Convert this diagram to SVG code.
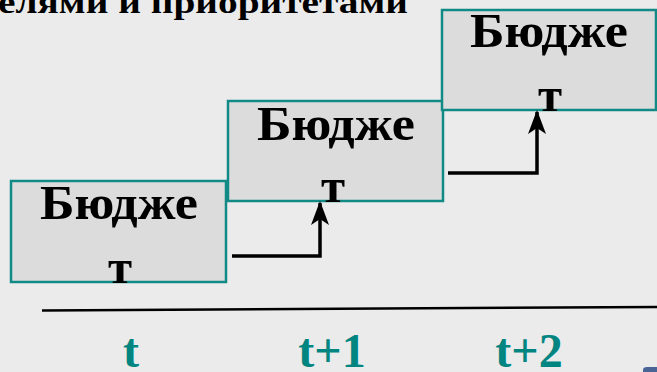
<svg xmlns="http://www.w3.org/2000/svg" width="657" height="372" viewBox="0 0 657 372">
  <style>
    .box { fill: #dcdcdc; stroke: #118a86; stroke-width: 2.5; }
    .lbl { font-family: "Liberation Serif", "Times New Roman", serif; font-weight: bold; font-size: 49px; fill: #000; text-anchor: middle; }
    .time { font-family: "Liberation Serif", "Times New Roman", serif; font-weight: bold; font-size: 48px; fill: #008580; text-anchor: middle; }
    .conn { fill: none; stroke: #000; stroke-width: 3.5; }
  </style>
  <defs>
    <marker id="arr" viewBox="0 0 24 20" refX="22" refY="10" markerUnits="userSpaceOnUse" markerWidth="24" markerHeight="20" orient="auto">
      <path d="M24 10 L0 1 L6 10 L0 19 Z" fill="#000"/>
    </marker>
  </defs>
  <rect width="657" height="372" fill="#ebebeb"/>
  <text x="-2" y="13" font-family="Liberation Serif, Times New Roman, serif" font-weight="bold" font-size="31" fill="#000" textLength="410" lengthAdjust="spacingAndGlyphs">елями и приоритетами</text>

  <g id="node-budget-t">
    <rect class="box" x="11" y="181" width="215" height="101"/>
    <text class="lbl" x="119" y="219" textLength="158" lengthAdjust="spacingAndGlyphs">Бюдже</text>
    <text class="lbl" x="120" y="283">т</text>
  </g>
  <g id="node-budget-t1">
    <rect class="box" x="228" y="101" width="215" height="100"/>
    <text class="lbl" x="336" y="140" textLength="158" lengthAdjust="spacingAndGlyphs">Бюдже</text>
    <text class="lbl" x="333" y="202">т</text>
  </g>
  <g id="node-budget-t2">
    <rect class="box" x="442" y="10" width="214" height="100"/>
    <text class="lbl" x="549" y="47" textLength="158" lengthAdjust="spacingAndGlyphs">Бюдже</text>
    <text class="lbl" x="550" y="111">т</text>
  </g>

  <g id="connectors">
    <path class="conn" d="M232 256 H320 V203" marker-end="url(#arr)"/>
    <path class="conn" d="M448 173 H537 V112" marker-end="url(#arr)"/>
  </g>

  <g id="axis">
    <path d="M42 310.5 L657 307" stroke="#000" stroke-width="2.5" fill="none"/>
    <text class="time" x="131" y="367">t</text>
    <text class="time" x="332" y="367">t+1</text>
    <text class="time" x="529" y="367">t+2</text>
  </g>
  <path d="M643 372 V370 Q643 367 647 367 H657 V372 Z" fill="#4a6595"/>
</svg>
